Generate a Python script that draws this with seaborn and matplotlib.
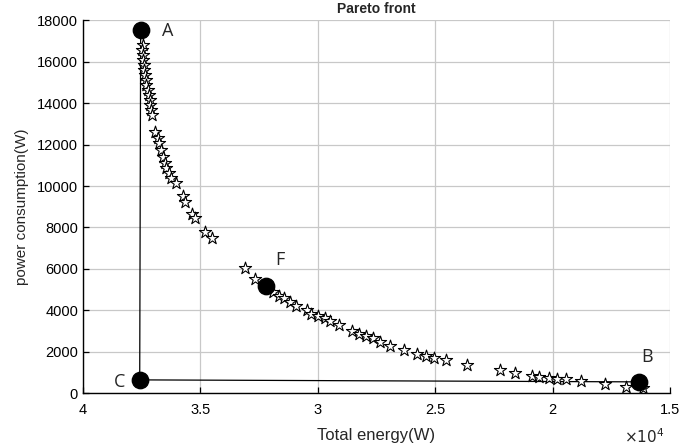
import numpy as np
import pandas as pd
import matplotlib
matplotlib.use('Agg')
import matplotlib.pyplot as plt
import seaborn as sns

# Pareto front points
energy = [37440, 37470, 37440, 37440, 37410, 37410, 37370, 37330, 37300, 37230,
          37200, 37160, 37130, 37090, 37040, 36920, 36800, 36770, 36690, 36590,
          36520, 36450, 36350, 36230, 36020, 35740, 35640, 35360, 35240, 34810,
          34500, 33110, 32680, 31900, 31650, 31440, 31190, 30940, 30460, 30270,
          29990, 29700, 29490, 29090, 28520, 28240, 27960, 27640, 27340, 26940,
          26340, 25760, 25400, 25050, 24540, 23630, 22240, 21590, 20880, 20590,
          20160, 19800, 19440, 18790, 17760, 16880, 16140]
power = [16800, 16550, 16310, 16070, 15830, 15590, 15350, 15110, 14870, 14630,
         14390, 14140, 13900, 13660, 13420, 12620, 12300, 12060, 11730, 11410,
         11090, 10850, 10610, 10370, 10130, 9520, 9240, 8650, 8440, 7800,
         7480, 6030, 5520, 4880, 4710, 4590, 4420, 4220, 4020, 3820,
         3750, 3620, 3490, 3300, 3010, 2850, 2790, 2690, 2500, 2280,
         2090, 1880, 1800, 1720, 1630, 1360, 1150, 980, 820, 770,
         740, 710, 690, 610, 450, 330, 250]

# marked solutions
labels = ['A', 'C', 'B', 'F']
lab_energy = [37540, 37580, 16320, 32220]
lab_power = [17500, 650, 554, 5180]

front = pd.DataFrame({'energy': energy, 'power': power})
marks = pd.DataFrame({'name': labels, 'energy': lab_energy, 'power': lab_power})

sns.set_style('white')
plt.rcParams['font.family'] = ['Liberation Sans', 'DejaVu Sans']

fig = plt.figure(figsize=(6.85, 4.47), dpi=100)
ax = fig.add_axes([0.121, 0.120, 0.857, 0.835])

# line A -> C -> B
sns.lineplot(data=marks[marks['name'] != 'F'], x='energy', y='power', sort=False,
             color='black', lw=0.9, ax=ax, zorder=2)
sns.scatterplot(data=front, x='energy', y='power', marker='*', s=85,
                facecolor='white', edgecolor='black', linewidth=0.8, ax=ax, zorder=3)
sns.scatterplot(data=marks, x='energy', y='power', s=140, color='black',
                edgecolor='black', ax=ax, zorder=4)

# label offsets in pixels
offsets = {'A': (27, -1), 'B': (8, 25), 'C': (-20, -2), 'F': (14, 26)}
for _, r in marks.iterrows():
    dx, dy = offsets[r['name']]
    ax.annotate(r['name'], (r['energy'], r['power']), xytext=(dx * 0.72, dy * 0.72),
                textcoords='offset points', fontsize=13, family='Open Sans',
                ha='center', va='center')

ax.set_xlim(40000, 15000)
ax.set_ylim(0, 18000)
ax.set_xticks([40000, 35000, 30000, 25000, 20000, 15000])
ax.set_yticks(range(0, 18001, 2000))
ax.xaxis.set_major_formatter(plt.FuncFormatter(lambda v, p: f'{v / 1e4:g}'))
ax.grid(True, color='#c8c8c8', lw=0.9)
ax.set_axisbelow(True)
for s in ['top', 'right']:
    ax.spines[s].set_visible(False)
for s in ['left', 'bottom']:
    ax.spines[s].set_color('black')
    ax.spines[s].set_linewidth(1.0)
ax.tick_params(direction='in', length=4, width=0.9, labelsize=10.5, colors='black',
               left=True, bottom=True)
ax.tick_params(axis='x', pad=7)

ax.set_title('Pareto front', fontsize=10, fontweight='bold', pad=5)
ax.set_xlabel('Total energy(W)', fontsize=12, labelpad=8)
ax.set_ylabel('power consumption(W)', fontsize=11, labelpad=6)
ax.text(0.99, -0.116, r'$\times10^{4}$', transform=ax.transAxes, ha='right',
        va='center', fontsize=11)

fig.savefig('out.png', dpi=100)
